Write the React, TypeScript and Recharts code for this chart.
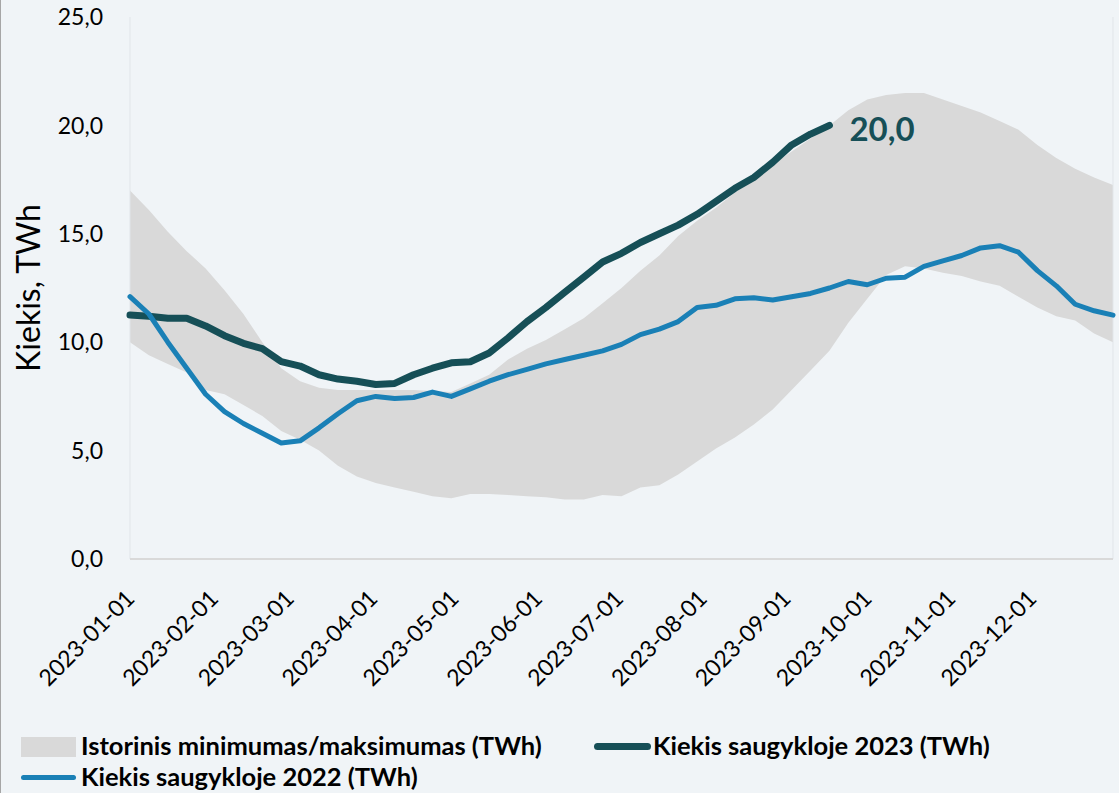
import { ComposedChart, Area, Line, XAxis, YAxis, ReferenceLine } from 'recharts'

// day of year (2023), sampled weekly
const days = [
  0, 7, 14, 21, 28, 35, 42, 49, 56, 63, 70, 77, 84, 91, 98, 105, 112, 119, 126, 133, 140, 147, 154, 161, 168, 175,
  182, 189, 196, 203, 210, 217, 224, 231, 238, 245, 252, 259, 266, 273, 280, 287, 294, 301, 308, 315, 322, 329, 336,
  343, 350, 357, 364,
]

const histMax = [
  17.0, 16.1, 15.1, 14.2, 13.4, 12.4, 11.3, 10.0, 8.8, 8.2, 7.9, 7.8, 7.8, 7.8, 7.8, 7.8, 7.75, 7.7, 8.1, 8.5, 9.2,
  9.7, 10.1, 10.6, 11.1, 11.8, 12.5, 13.3, 14.0, 14.9, 15.6, 16.2, 16.9, 17.6, 18.2, 18.8, 19.4, 20.0, 20.7, 21.2,
  21.4, 21.5, 21.5, 21.2, 20.9, 20.6, 20.2, 19.8, 19.1, 18.5, 18.0, 17.6, 17.25,
]

const histMin = [
  10.0, 9.4, 9.0, 8.6, 7.8, 7.6, 7.1, 6.6, 5.9, 5.5, 5.0, 4.3, 3.8, 3.5, 3.3, 3.1, 2.9, 2.8, 3.0, 3.0, 2.95, 2.9,
  2.85, 2.75, 2.75, 2.95, 2.9, 3.3, 3.4, 3.9, 4.5, 5.1, 5.6, 6.2, 6.9, 7.8, 8.7, 9.6, 10.9, 12.0, 13.1, 13.5, 13.4,
  13.2, 13.05, 12.8, 12.6, 12.1, 11.6, 11.2, 11.0, 10.4, 10.0,
]

const storage2023 = [
  11.25, 11.2, 11.1, 11.1, 10.75, 10.3, 9.95, 9.7, 9.1, 8.9, 8.5, 8.3, 8.2, 8.05, 8.1, 8.5, 8.8, 9.05, 9.1, 9.5, 10.2,
  10.95, 11.6, 12.3, 13.0, 13.7, 14.1, 14.6, 15.0, 15.4, 15.9, 16.5, 17.1, 17.6, 18.3, 19.1, 19.6, 20.0,
]

const storage2022 = [
  12.1, 11.3, 10.0, 8.8, 7.6, 6.8, 6.25, 5.8, 5.35, 5.45, 6.05, 6.7, 7.3, 7.5, 7.4, 7.45, 7.7, 7.5, 7.85, 8.2, 8.5,
  8.75, 9.0, 9.2, 9.4, 9.6, 9.9, 10.35, 10.6, 10.95, 11.6, 11.7, 12.0, 12.05, 11.95, 12.1, 12.25, 12.5, 12.8, 12.65,
  12.95, 13.0, 13.5, 13.75, 14.0, 14.35, 14.45, 14.15, 13.3, 12.6, 11.75, 11.45, 11.25,
]

const tickDays = [0, 31, 59, 90, 120, 151, 181, 212, 243, 273, 304, 334]
const tickLabels = [
  '2023-01-01', '2023-02-01', '2023-03-01', '2023-04-01', '2023-05-01', '2023-06-01',
  '2023-07-01', '2023-08-01', '2023-09-01', '2023-10-01', '2023-11-01', '2023-12-01',
]
const yTicks = [0, 5, 10, 15, 20, 25]

const data = days.map((day, i) => ({
  day,
  band: [histMin[i], histMax[i]],
  y2023: i < storage2023.length ? storage2023[i] : null,
  y2022: storage2022[i],
}))

const FONT = 'Lato, "Open Sans", sans-serif'
const BG = '#f0f4f7'
const C2023 = '#164f57'
const C2022 = '#1a80b6'
const BAND = '#d9d9d9'

const fmt = (v: number) => v.toFixed(1).replace('.', ',')

function DateTick({ x, y, payload }: any) {
  const label = tickLabels[tickDays.indexOf(payload.value)]
  return (
    <text
      x={x + 6}
      y={y + 38}
      transform={`rotate(-45, ${x + 6}, ${y + 38})`}
      textAnchor="end"
      fontSize={23}
      fontFamily={FONT}
      fill="#000"
    >
      {label}
    </text>
  )
}

function EndLabel({ x, y, index }: any) {
  if (index !== storage2023.length - 1) return null
  return (
    <text x={x + 20} y={y + 16} fontSize={33} fontWeight={700} fontFamily={FONT} fill={C2023}>
      {fmt(storage2023[index])}
    </text>
  )
}

const legendText = {
  position: 'absolute' as const,
  fontFamily: FONT,
  fontWeight: 700,
  fontSize: 25.5,
  lineHeight: '31px',
  color: '#000',
  whiteSpace: 'nowrap' as const,
}

export default function App() {
  return (
    <div
      style={{
        position: 'absolute',
        left: 0,
        top: 0,
        width: 1119,
        height: 793,
        background: BG,
        borderLeft: '1px solid #a6a6a6',
        boxSizing: 'border-box',
        overflow: 'hidden',
      }}
    >
      <ComposedChart width={1118} height={793} data={data} margin={{ top: 17, right: 6, left: -1, bottom: 0 }}>
        <XAxis
          dataKey="day"
          type="number"
          domain={[0, 364]}
          ticks={tickDays}
          tick={<DateTick />}
          tickLine={false}
          tickSize={0}
          tickMargin={3}
          axisLine={{ stroke: '#d9d9d9', strokeWidth: 2 }}
          height={234}
          interval={0}
        />
        <YAxis
          type="number"
          domain={[0, 25]}
          ticks={yTicks}
          tickFormatter={fmt}
          axisLine={false}
          tickLine={false}
          tickSize={0}
          tickMargin={27}
          width={130}
          tick={{ fontSize: 23, fontFamily: FONT, fill: '#000' }}
          label={{
            value: 'Kiekis, TWh',
            angle: -90,
            position: 'insideLeft',
            offset: 29,
            style: { fontSize: 32, fontFamily: FONT, fill: '#000', textAnchor: 'middle' },
          }}
        />
        <ReferenceLine x={0} stroke="#e1e5e9" strokeWidth={1} />
        <ReferenceLine x={364} stroke="#e1e5e9" strokeWidth={1} />
        <Area
          dataKey="band"
          type="linear"
          fill={BAND}
          fillOpacity={1}
          stroke="none"
          isAnimationActive={false}
        />
        <Line
          dataKey="y2023"
          type="linear"
          stroke={C2023}
          strokeWidth={7}
          strokeLinecap="round"
          strokeLinejoin="round"
          dot={false}
          label={<EndLabel />}
          isAnimationActive={false}
        />
        <Line
          dataKey="y2022"
          type="linear"
          stroke={C2022}
          strokeWidth={5}
          strokeLinecap="round"
          strokeLinejoin="round"
          dot={false}
          isAnimationActive={false}
        />
      </ComposedChart>

      <div style={{ position: 'absolute', left: 20, top: 737, width: 55, height: 20, background: BAND }} />
      <div style={{ ...legendText, left: 80, top: 730 }}>Istorinis minimumas/maksimumas (TWh)</div>
      <div style={{ position: 'absolute', left: 593, top: 743, width: 57, height: 7, borderRadius: 4, background: C2023 }} />
      <div style={{ ...legendText, left: 652, top: 730 }}>Kiekis saugykloje 2023 (TWh)</div>
      <div style={{ position: 'absolute', left: 20, top: 775, width: 55, height: 5, borderRadius: 3, background: C2022 }} />
      <div style={{ ...legendText, left: 80, top: 761 }}>Kiekis saugykloje 2022 (TWh)</div>
    </div>
  )
}
